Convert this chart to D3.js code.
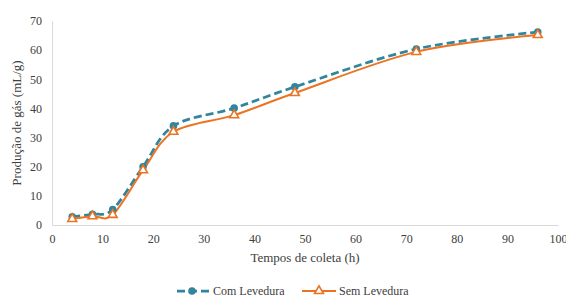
<!DOCTYPE html>
<html>
<head>
<meta charset="utf-8">
<script src="https://cdn.jsdelivr.net/npm/d3@7"></script>
<style>
  body { margin: 0; background: #fff; }
</style>
</head>
<body>
<svg id="chart" width="566" height="297"></svg>
<script>
// tempos de coleta (h)
var tempos = [4, 8, 12, 18, 24, 36, 48, 72, 96];
var comLevedura = [2.8, 3.7, 5.3, 20.0, 34.0, 40.1, 47.4, 60.4, 66.2];
var semLevedura = [2.1, 3.0, 3.5, 18.8, 32.0, 37.7, 45.3, 59.4, 65.2];
var xTicks = [0, 10, 20, 30, 40, 50, 60, 70, 80, 90, 100];
var yTicks = [0, 10, 20, 30, 40, 50, 60, 70];

var teal = "#31859c";
var orange = "#ec7322";
var serif = "Liberation Serif";

var svg = d3.select("#chart");

var x = d3.scaleLinear().domain([0, 100]).range([52, 558]);
var y = d3.scaleLinear().domain([0, 70]).range([225, 21]);

// eixos
var xAxis = svg.append("g")
    .attr("transform", "translate(0," + y(0) + ")")
    .call(d3.axisBottom(x).tickValues(xTicks).tickSize(0).tickPadding(9));
var yAxis = svg.append("g")
    .attr("transform", "translate(" + x(0) + ",0)")
    .call(d3.axisLeft(y).tickValues(yTicks).tickSize(0).tickPadding(10));

[xAxis, yAxis].forEach(function (a) {
    a.attr("font-family", serif);
    a.select(".domain").attr("stroke", "#d9d9d9").attr("stroke-width", 1);
    a.selectAll("text")
        .attr("font-size", 12);
});

// titulos
svg.append("text")
    .attr("x", 305)
    .attr("y", 262)
    .attr("text-anchor", "middle")
    .attr("font-size", 13)
    .text("Tempos de coleta (h)");

svg.append("text")
    .attr("transform", "translate(21," + 123 + ") rotate(-90)")
    .attr("text-anchor", "middle")
    .attr("font-size", 13)
    .text("Produção de gás (mL/g)");

var line = d3.line()
    .x(function (d) { return x(d[0]); })
    .y(function (d) { return y(d[1]); })
    .curve(d3.curveCardinal.tension(0));

var com = d3.zip(tempos, comLevedura);
var sem = d3.zip(tempos, semLevedura);

svg.append("path")
    .datum(com)
    .attr("d", line)
    .attr("fill", "none")
    .attr("stroke", teal)
    .attr("stroke-width", 2.75)
    .attr("stroke-dasharray", "8,4");

svg.append("path")
    .datum(sem)
    .attr("d", line)
    .attr("fill", "none")
    .attr("stroke", orange)
    .attr("stroke-width", 2);

svg.selectAll(".ptCom")
    .data(com)
    .enter().append("circle")
    .attr("class", "ptCom")
    .attr("cx", function (d) { return x(d[0]); })
    .attr("cy", function (d) { return y(d[1]); })
    .attr("r", 3.8)
    .attr("fill", teal);

var tri = d3.symbol().type(d3.symbolTriangle).size(34);

svg.selectAll(".ptSem")
    .data(sem)
    .enter().append("path")
    .attr("class", "ptSem")
    .attr("d", tri)
    .attr("transform", function (d) { return "translate(" + x(d[0]) + "," + y(d[1]) + ")"; })
    .attr("fill", "#fff")
    .attr("stroke", orange)
    .attr("stroke-width", 1.6);

// legenda
var legend = svg.append("g");
legend.append("line")
    .attr("x1", 177).attr("x2", 211).attr("y1", 291).attr("y2", 291)
    .attr("stroke", teal).attr("stroke-width", 2.75).attr("stroke-dasharray", "8,4");
legend.append("circle")
    .attr("cx", 192).attr("cy", 291).attr("r", 3.8).attr("fill", teal);
legend.append("text")
    .attr("x", 213).attr("y", 295).attr("font-size", 12)
    .text("Com Levedura");

legend.append("line")
    .attr("x1", 302).attr("x2", 336).attr("y1", 291).attr("y2", 291)
    .attr("stroke", orange).attr("stroke-width", 2);
legend.append("path")
    .attr("d", tri)
    .attr("transform", "translate(319,291)")
    .attr("fill", "#fff").attr("stroke", orange).attr("stroke-width", 1.6);
legend.append("text")
    .attr("x", 339).attr("y", 295).attr("font-size", 12)
    .text("Sem Levedura");

svg.selectAll("text")
    .attr("font-family", serif)
    .attr("fill", "#404040");
</script>
</body>
</html>
